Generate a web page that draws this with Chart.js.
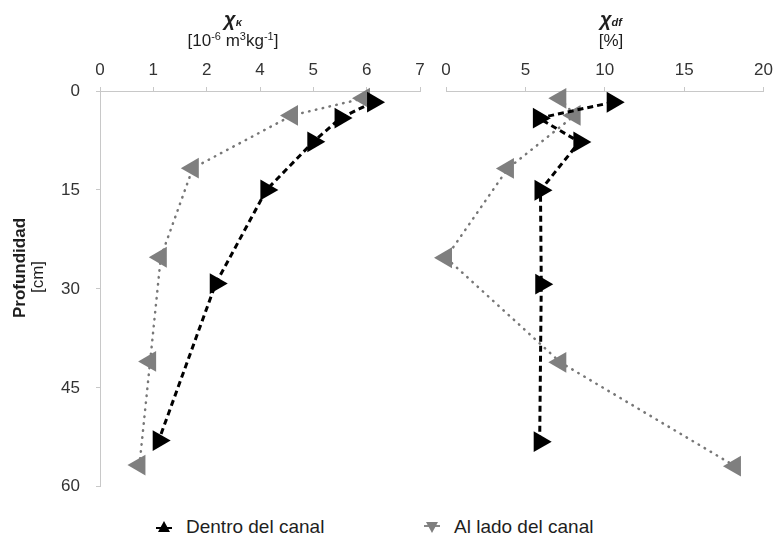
<!DOCTYPE html>
<html>
<head>
<meta charset="utf-8">
<script src="https://cdn.jsdelivr.net/npm/chart.js@4"></script>
<style>
  body { margin: 0; background: #fff; font-family: "Liberation Sans", Arial, sans-serif; color: #1e1e1e; }
  #wrap { position: relative; width: 779px; height: 540px; overflow: hidden; }
  canvas { position: absolute; top: 0; }
  .ttl { position: absolute; transform: translateX(-50%); white-space: nowrap; text-align: center; }
  .big { font-size: 20px; font-weight: bold; font-style: italic; }
  .big small { font-size: 11px; }
  .unit { font-size: 17px; }
  .unit sup { font-size: 11px; vertical-align: 6px; line-height: 0; }
  .ytl { position: absolute; transform: translate(-50%, -50%) rotate(-90deg); white-space: nowrap; font-size: 17px; }
  .leg { position: absolute; top: 516px; font-size: 19px; display: flex; align-items: center; }
  .leg svg { margin-right: 14px; }
</style>
</head>
<body>
<div id="wrap">
  <canvas id="left" width="440" height="513" style="left:0"></canvas>
  <canvas id="right" width="349" height="500" style="left:430px"></canvas>

  <div class="ttl big" style="left:233px;top:8px">χ<small>κ</small></div>
  <div class="ttl unit" style="left:233px;top:31px">[10<sup>-6</sup> m<sup>3</sup>kg<sup>-1</sup>]</div>
  <div class="ttl big" style="left:611px;top:8px">χ<small>df</small></div>
  <div class="ttl unit" style="left:611px;top:31px">[%]</div>

  <div class="ytl" style="left:20px;top:268px;font-weight:bold">Profundidad</div>
  <div class="ytl" style="left:38px;top:277px">[cm]</div>

  <div class="leg" style="left:156px">
    <svg width="16" height="14"><line x1="0" y1="8" x2="16" y2="8" stroke="#000" stroke-width="2"/><polygon points="8,1 14,12 2,12" fill="#000"/></svg>
    <span>Dentro del canal</span>
  </div>
  <div class="leg" style="left:424px">
    <svg width="16" height="14"><line x1="0" y1="6" x2="16" y2="6" stroke="#888" stroke-width="2"/><polygon points="2,2 14,2 8,13" fill="#7f7f7f"/></svg>
    <span>Al lado del canal</span>
  </div>
</div>
<script>
// depths (cm)
const depthDentro = [1.7, 4.1, 7.7, 15, 29.2, 53];
const depthLado = [1.1, 3.7, 11.7, 25.2, 41, 56.7];

// chi-k, in positions of the printed axis (labels below)
const kDentro = [5.12, 4.51, 4.0, 3.12, 2.17, 1.10];
const kLado = [4.95, 3.6, 1.74, 1.14, 0.94, 0.74];
const kTickLabels = ['0', '1', '2', '4', '5', '6', '7'];

// chi-df (%)
const dfDentro = [10.5, 5.85, 8.4, 5.95, 6.0, 5.9];
const dfLado = [7.2, 8.1, 3.9, 0.0, 7.2, 18.2];

const depthTicks = [0, 15, 30, 45, 60];

const tickFont = { family: '"Liberation Sans", Arial, sans-serif', size: 17 };
const axisColor = '#c8c8c8';

function pts(xs, ys) {
  return xs.map((x, i) => ({ x, y: ys[i] }));
}

function datasets(dentro, lado) {
  return [
    {
      label: 'Dentro del canal',
      data: pts(dentro, depthDentro),
      borderColor: '#000',
      borderWidth: 3,
      borderDash: [6, 4],
      pointStyle: 'triangle',
      pointRotation: 90,
      pointRadius: 12,
      pointBackgroundColor: '#000',
      pointBorderWidth: 0,
      tension: 0,
      clip: false
    },
    {
      label: 'Al lado del canal',
      data: pts(lado, depthLado),
      borderColor: '#777',
      borderWidth: 2.5,
      borderDash: [0.5, 6.5],
      borderCapStyle: 'round',
      pointStyle: 'triangle',
      pointRotation: 270,
      pointRadius: 12,
      pointBackgroundColor: '#7f7f7f',
      pointBorderWidth: 0,
      tension: 0,
      clip: false
    }
  ];
}

function topAxis(max, step, labels) {
  return {
    type: 'linear',
    position: 'top',
    min: 0,
    max,
    ticks: {
      stepSize: step,
      font: tickFont,
      color: '#333',
      padding: 6,
      callback: v => labels ? labels[v] : v
    },
    grid: { drawOnChartArea: false, tickLength: 4, color: axisColor },
    border: { color: axisColor },
    afterFit: s => { s.height = 91; }
  };
}

function depthAxis(show) {
  const axis = {
    type: 'linear',
    reverse: true,
    min: 0,
    max: 60,
    display: show,
    afterBuildTicks: s => { s.ticks = depthTicks.map(v => ({ value: v })); },
    ticks: { font: tickFont, color: '#333', padding: 16 },
    grid: { drawOnChartArea: false, tickLength: 4, color: axisColor },
    border: { color: axisColor }
  };
  if (show) axis.afterFit = s => { s.width = 100; };
  return axis;
}

const common = {
  responsive: false,
  animation: false,
  plugins: { legend: { display: false }, tooltip: { enabled: false } }
};

new Chart(document.getElementById('left'), {
  type: 'line',
  data: { datasets: datasets(kDentro, kLado) },
  options: {
    ...common,
    layout: { padding: { left: 0, right: 20, top: 0, bottom: 1 } },
    scales: { x: topAxis(6, 1, kTickLabels), y: depthAxis(true) }
  }
});

new Chart(document.getElementById('right'), {
  type: 'line',
  data: { datasets: datasets(dfDentro, dfLado) },
  options: {
    ...common,
    layout: { padding: { left: 16, right: 13, top: 0, bottom: 1 } },
    scales: { x: topAxis(20, 5, null), y: depthAxis(false) }
  }
});
</script>
</body>
</html>
